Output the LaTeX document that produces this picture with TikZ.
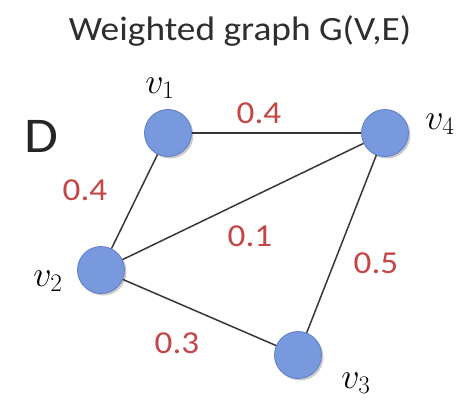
\RequirePackage{fix-cm}
\documentclass[tikz,border=0pt]{standalone}
\usepackage{fontspec}
\setmainfont{Carlito}[FakeStretch=1.1]
\usetikzlibrary{shadows}
\definecolor{nodeblue}{RGB}{120,153,222}
\definecolor{nodeedge}{RGB}{95,125,195}
\definecolor{wred}{RGB}{196,70,70}
\definecolor{edgegray}{RGB}{55,55,55}
\tikzset{
  vert/.style={circle,minimum size=47pt,inner sep=0pt,fill=nodeblue,draw=nodeedge,line width=0.8pt,
    drop shadow={shadow xshift=2pt,shadow yshift=-2pt,opacity=0.35,fill=black!60}},
  edge/.style={draw=edgegray,line width=1.5pt},
  wlab/.style={text=wred,font=\fontsize{32}{36}\selectfont,inner sep=0pt},
  vlab/.style={font=\fontsize{36}{40}\selectfont,inner sep=0pt}
}
\begin{document}
\begin{tikzpicture}[x=1pt,y=-1pt]
\useasboundingbox (0,0) rectangle (464,400);
\node[font=\fontsize{34}{40}\selectfont,text=black!82] (title) at (240,31) {Weighted graph G(V,E)};
\node[font=\fontsize{50}{56}\selectfont,text=black!85] (D) at (41,136) {D};
\node[vert] (v1) at (168,133) {};
\node[vert] (v4) at (385,133) {};
\node[vert] (v2) at (101,270) {};
\node[vert] (v3) at (298,355) {};
\draw[edge] (v1) -- (v4);
\draw[edge] (v1) -- (v2);
\draw[edge] (v2) -- (v4);
\draw[edge] (v2) -- (v3);
\draw[edge] (v4) -- (v3);
\node[wlab] (w14) at (259,113) {0.4};
\node[wlab] (w12) at (85,190) {0.4};
\node[wlab] (w24) at (250,236) {0.1};
\node[wlab] (w34) at (376,263) {0.5};
\node[wlab] (w23) at (177,343) {0.3};
\node[vlab] (l1) at (160,88) {$v_1$};
\node[vlab] (l4) at (440,124) {$v_4$};
\node[vlab] (l2) at (48,281) {$v_2$};
\node[vlab] (l3) at (356,383) {$v_3$};
\end{tikzpicture}
\end{document}
